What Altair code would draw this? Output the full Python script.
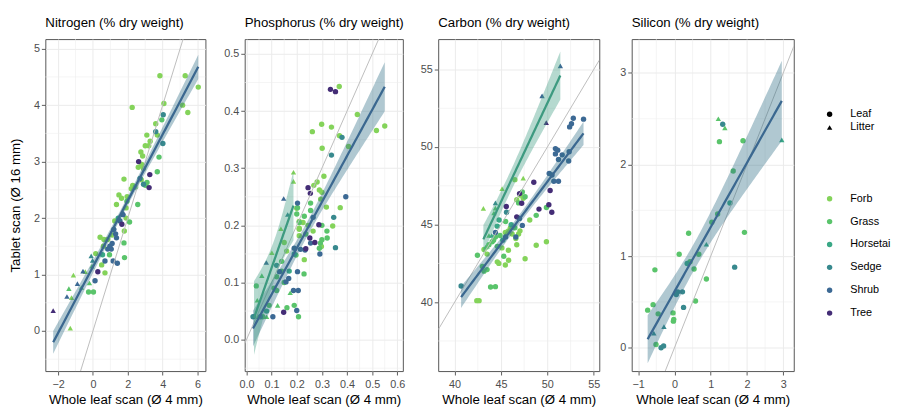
import altair as alt
import numpy as np
import pandas as pd

TYPES = ["Forb", "Grass", "Horsetai", "Sedge", "Shrub", "Tree"]
TYPE_COLORS = ["#84d35a", "#5ac46b", "#3aa886", "#38898e", "#3c6994", "#442d76"]
SAMPLES = ["Leaf", "Litter"]
SAMPLE_SHAPES = ["circle", "triangle-up"]
FIT_COLORS = {"Leaf": "#3b6890", "Litter": "#3d9a80"}
BAND_COLORS = {"Leaf": "#2f6f85", "Litter": "#3d9a80"}

PANEL_TITLES = ["Nitrogen (% dry weight)", "Phosphorus (% dry weight)",
                "Carbon (% dry weight)", "Silicon (% dry weight)"]
X_TITLE = "Whole leaf scan (Ø 4 mm)"
Y_TITLE = "Tablet scan (Ø 16 mm)"

# ---------------- Nitrogen ----------------
N_LEAF_FORB_X = [3.84, 5.29, 6.04, 2.25, 5.14, 5.44, 4.07, 3.60, 3.69, 3.09, 3.28, 3.20, 3.00, 2.75, 2.85, 2.60, 2.80, 2.90, 2.77, 2.28, 2.20, 1.49, 1.64, 1.35, 1.96, 1.90, 1.90, 1.80, 1.78, 0.41, 0.63, 0.85, 0.60, 0.16, 0.50, 0.69, 1.25, 1.10]
N_LEAF_FORB_Y = [4.52, 4.52, 4.32, 3.96, 4.00, 3.87, 4.03, 3.67, 3.47, 3.47, 3.36, 3.28, 3.28, 3.17, 3.10, 2.90, 2.95, 2.88, 2.68, 2.58, 2.52, 2.41, 2.35, 2.24, 2.38, 2.18, 2.00, 1.77, 2.69, 1.66, 1.62, 1.62, 1.50, 1.37, 1.17, 1.03, 1.95, 1.70]
N_LEAF_GRASS_X = [3.95, 3.79, 3.69, 3.10, 2.57, 2.10, 1.78, 1.81, 0.03, -0.25, 1.95, 3.00, 0.95, 2.45]
N_LEAF_GRASS_Y = [3.74, 3.08, 2.82, 2.63, 2.24, 1.93, 1.56, 1.30, 0.69, 0.69, 2.30, 2.58, 1.35, 2.55]
N_LEAF_HORSE_X = [1.45, 0.55]
N_LEAF_HORSE_Y = [2.00, 1.35]
N_LEAF_SEDGE_X = [4.03, 4.01, 2.90, 3.60, 2.70]
N_LEAF_SEDGE_Y = [3.83, 3.32, 2.60, 3.53, 2.70]
N_LEAF_SHRUB_X = [1.72, 1.20, 1.30, 1.35, 0.97, 1.05, 1.10, 0.69, 1.16, 1.40, 0.12, 1.55, 0.85]
N_LEAF_SHRUB_Y = [2.06, 1.80, 1.72, 1.65, 1.50, 1.45, 1.55, 1.24, 1.24, 1.20, 0.89, 1.95, 1.45]
N_LEAF_TREE_X = [2.62, 3.26, 3.22, 1.66, 0.28]
N_LEAF_TREE_Y = [3.00, 2.77, 2.54, 1.89, 1.05]
N_LITTER_TREE_X = [-2.28]
N_LITTER_TREE_Y = [0.36]
N_LITTER_FORB_X = [-1.30, -1.12, -1.23, -0.44]
N_LITTER_FORB_Y = [0.05, 0.99, 0.59, 1.05]
N_LITTER_GRASS_X = [-1.38, -0.66, -0.20, -0.05]
N_LITTER_GRASS_Y = [0.75, 0.77, 0.85, 1.15]
N_LITTER_SHRUB_X = [-1.49, -0.89, -0.57, 1.74, 1.15]
N_LITTER_SHRUB_Y = [0.61, 0.84, 1.06, 2.09, 1.80]
N_LITTER_SEDGE_X = [-0.10, -0.02]
N_LITTER_SEDGE_Y = [1.33, 1.25]

# ---------------- Phosphorus ----------------
P_LEAF_TREE_X = [0.334, 0.354, 0.245, 0.254, 0.288, 0.252, 0.272, 0.236, 0.148]
P_LEAF_TREE_Y = [0.438, 0.434, 0.266, 0.256, 0.201, 0.178, 0.170, 0.159, 0.048]
P_LEAF_FORB_X = [0.369, 0.441, 0.550, 0.517, 0.262, 0.299, 0.338, 0.406, 0.301, 0.308, 0.281, 0.268, 0.290, 0.300, 0.295, 0.318, 0.373, 0.343, 0.210, 0.298, 0.230, 0.200, 0.210, 0.210, 0.210, 0.160, 0.150, 0.225, 0.245, 0.265, 0.370]
P_LEAF_FORB_Y = [0.443, 0.394, 0.374, 0.366, 0.364, 0.377, 0.372, 0.338, 0.335, 0.286, 0.276, 0.270, 0.262, 0.258, 0.246, 0.232, 0.231, 0.199, 0.195, 0.163, 0.140, 0.230, 0.207, 0.193, 0.182, 0.155, 0.170, 0.205, 0.200, 0.190, 0.357]
P_LEAF_GRASS_X = [0.255, 0.203, 0.255, 0.230, 0.210, 0.300, 0.236, 0.321, 0.294, 0.039, 0.161, 0.190, 0.207, 0.229, 0.140, 0.120, 0.150, 0.120, 0.110, 0.197, 0.140, 0.200, 0.300, 0.290, 0.320, 0.065, 0.090]
P_LEAF_GRASS_Y = [0.239, 0.231, 0.226, 0.216, 0.205, 0.200, 0.185, 0.178, 0.169, 0.094, 0.056, 0.060, 0.040, 0.115, 0.120, 0.110, 0.100, 0.086, 0.090, 0.148, 0.137, 0.220, 0.175, 0.160, 0.190, 0.040, 0.060]
P_LEAF_SEDGE_X = [0.380, 0.338, 0.347, 0.354, 0.026, 0.120]
P_LEAF_SEDGE_Y = [0.354, 0.323, 0.214, 0.161, 0.040, 0.130]
P_LEAF_HORSE_X = [0.190, 0.080, 0.170]
P_LEAF_HORSE_Y = [0.150, 0.050, 0.120]
P_LEAF_SHRUB_X = [0.395, 0.203, 0.265, 0.255, 0.233, 0.292, 0.105, 0.200, 0.187, 0.206, 0.203, 0.131, 0.157, 0.168, 0.190, 0.215, 0.055]
P_LEAF_SHRUB_Y = [0.250, 0.239, 0.214, 0.169, 0.157, 0.150, 0.040, 0.051, 0.086, 0.086, 0.119, 0.119, 0.101, 0.107, 0.160, 0.158, 0.040]
P_LITTER_FORB_X = [0.187, 0.187, 0.137, 0.101]
P_LITTER_FORB_Y = [0.293, 0.277, 0.194, 0.152]
P_LITTER_GRASS_X = [0.061, 0.043, 0.124, 0.174, 0.045, 0.080]
P_LITTER_GRASS_Y = [0.112, 0.069, 0.060, 0.082, 0.040, 0.040]
P_LITTER_SHRUB_X = [0.148, 0.079]
P_LITTER_SHRUB_Y = [0.247, 0.135]
P_LITTER_SEDGE_X = [0.164, 0.030]
P_LITTER_SEDGE_Y = [0.219, 0.040]

# ---------------- Carbon ----------------
C_LEAF_SEDGE_X = [40.7, 45.6]
C_LEAF_SEDGE_Y = [41.04, 45.8]
C_LEAF_FORB_X = [42.39, 42.64, 44.60, 44.77, 45.47, 45.82, 47.60, 43.50, 43.17, 45.10, 45.80, 48.80, 49.90, 46.70, 46.60, 45.47, 45.80, 46.20, 46.90, 47.05, 48.10, 46.50, 46.70, 47.10, 47.40, 46.00]
C_LEAF_FORB_Y = [40.10, 40.10, 42.60, 42.50, 42.40, 42.70, 42.80, 43.10, 43.40, 43.50, 43.35, 43.67, 43.90, 43.70, 44.10, 44.50, 44.60, 44.40, 44.40, 44.60, 45.30, 47.90, 46.60, 46.90, 46.70, 44.80]
C_LEAF_GRASS_X = [43.88, 44.40, 42.46, 42.99, 43.50, 43.17, 45.30, 43.70, 44.05, 44.60, 44.40, 44.90, 46.50, 48.80, 49.90, 47.30, 46.90, 47.60, 44.20, 45.50]
C_LEAF_GRASS_Y = [40.98, 41.00, 43.03, 42.30, 42.10, 42.00, 42.96, 43.70, 43.90, 43.60, 44.20, 44.30, 44.80, 45.60, 46.10, 47.10, 46.40, 46.80, 44.00, 45.20]
C_LEAF_HORSE_X = [44.6, 44.8, 45.2, 46.1]
C_LEAF_HORSE_Y = [44.9, 45.3, 44.0, 45.0]
C_LEAF_SHRUB_X = [46.6, 45.5, 47.3, 47.0, 50.87, 51.12, 50.87, 51.6, 51.2, 52.3, 50.2, 50.5, 50.7, 51.2, 52.8, 53.9, 52.4, 52.6, 52.35, 44.4]
C_LEAF_SHRUB_Y = [44.2, 44.2, 44.95, 45.4, 49.9, 49.8, 49.56, 49.5, 49.2, 49.1, 48.3, 48.2, 47.8, 47.8, 51.86, 51.8, 51.3, 51.5, 49.7, 44.5]
C_LEAF_TREE_X = [45.57, 47.23, 48.54, 50.3, 49.1, 50.16, 50.48, 47.0, 46.7]
C_LEAF_TREE_Y = [46.17, 46.38, 47.73, 47.2, 46.0, 46.28, 45.8, 47.0, 45.5]
C_LITTER_SHRUB_X = [51.4, 49.43]
C_LITTER_SHRUB_Y = [55.23, 53.3]
C_LITTER_SEDGE_X = [44.4]
C_LITTER_SEDGE_Y = [46.4]
C_LITTER_TREE_X = [49.88]
C_LITTER_TREE_Y = [51.57]
C_LITTER_FORB_X = [47.4, 45.12, 43.1]
C_LITTER_FORB_Y = [48.0, 47.32, 46.05]
C_LITTER_GRASS_X = [44.24, 44.4, 43.7, 43.35, 43.5]
C_LITTER_GRASS_Y = [45.75, 46.06, 44.3, 43.55, 43.6]
C_LITTER_HORSE_X = [44.0]
C_LITTER_HORSE_Y = [44.3]

# ---------------- Silicon ----------------
S_LEAF_SEDGE_X = [1.33, 1.66, 0.09, 0.22, 0.25, -0.37, -0.30, 0.05]
S_LEAF_SEDGE_Y = [2.44, 0.88, 0.61, 0.61, 0.44, 0.00, 0.02, 0.58]
S_LEAF_GRASS_X = [1.24, 1.89, 1.62, 1.19, 1.03, 1.93, 0.39, 0.13, 0.67, 0.54, -0.54, 0.88, 0.58, -0.74, -0.59, -0.45, -0.04, -0.02, -0.03, -0.51, 0.43]
S_LEAF_GRASS_Y = [2.25, 2.26, 1.93, 1.46, 1.37, 1.26, 1.25, 1.02, 1.02, 0.86, 0.85, 0.75, 0.51, 0.41, 0.47, 0.37, 0.38, 0.31, 0.29, 0.035, 0.94]
S_LEAF_HORSE_X = [1.53, 0.35]
S_LEAF_HORSE_Y = [1.58, 0.92]
S_LITTER_GRASS_X = [1.21, 1.39]
S_LITTER_GRASS_Y = [2.50, 2.40]
S_LITTER_HORSE_X = [2.96, 0.88]
S_LITTER_HORSE_Y = [2.27, 1.13]
S_LITTER_SEDGE_X = [-0.29, -0.57]
S_LITTER_SEDGE_Y = [0.23, 0.16]

# axis domains, ticks, minor grid values
N_XDOM, N_YDOM = [-2.73, 6.45], [-0.71, 5.17]
N_XT, N_YT = [-2, 0, 2, 4, 6], [0, 1, 2, 3, 4, 5]
N_XM, N_YM = [-1, 1, 3, 5], [-0.5, 0.5, 1.5, 2.5, 3.5, 4.5]
P_XDOM, P_YDOM = [-0.007, 0.622], [-0.055, 0.526]
P_XT, P_YT = [0, 0.1, 0.2, 0.3, 0.4, 0.5, 0.6], [0, 0.1, 0.2, 0.3, 0.4, 0.5]
P_XM, P_YM = [0.05, 0.15, 0.25, 0.35, 0.45, 0.55], [-0.05, 0.05, 0.15, 0.25, 0.35, 0.45]
C_XDOM, C_YDOM = [38.23, 55.6], [35.56, 56.96]
C_XT, C_YT = [40, 45, 50, 55], [40, 45, 50, 55]
C_XM, C_YM = [42.5, 47.5, 52.5], [37.5, 42.5, 47.5, 52.5]
S_XDOM, S_YDOM = [-1.18, 3.29], [-0.255, 3.37]
S_XT, S_YT = [-1, 0, 1, 2, 3], [0, 1, 2, 3]
S_XM, S_YM = [-0.5, 0.5, 1.5, 2.5], [0.5, 1.5, 2.5]


def groups_df(groups):
    rows = []
    for sample, ptype, xs, ys in groups:
        for x, y in zip(xs, ys):
            rows.append({"x": x, "y": y, "type": ptype, "sample": sample})
    return pd.DataFrame(rows)


def t975(df):
    z = 1.959964
    g1 = (z ** 3 + z) / 4
    g2 = (5 * z ** 5 + 16 * z ** 3 + 3 * z) / 96
    g3 = (3 * z ** 7 + 19 * z ** 5 + 17 * z ** 3 - 15 * z) / 384
    return z + g1 / df + g2 / df ** 2 + g3 / df ** 3


def lm_fit(df, n=80):
    xs = df["x"].to_numpy(float)
    ys = df["y"].to_numpy(float)
    m = len(xs)
    b, a = np.polyfit(xs, ys, 1)
    res = ys - (a + b * xs)
    s = np.sqrt((res ** 2).sum() / (m - 2))
    xbar = xs.mean()
    sxx = ((xs - xbar) ** 2).sum()
    gx = np.linspace(xs.min(), xs.max(), n)
    fy = a + b * gx
    se = s * np.sqrt(1.0 / m + (gx - xbar) ** 2 / sxx)
    t = t975(m - 2)
    return pd.DataFrame({"x": gx, "y": fy, "lo": fy - t * se, "hi": fy + t * se})


FONT = "Liberation Sans"
PLOT_H = 338

color_legend = alt.Legend(title=None, orient="none", legendX=793, legendY=157,
                          symbolType="circle", symbolSize=30, labelFontSize=11,
                          rowPadding=11.3, labelOffset=15.5, padding=0,
                          labelColor="black", symbolStrokeWidth=0)
shape_legend = alt.Legend(title=None, orient="none", legendX=793, legendY=71,
                          symbolSize=30, labelFontSize=11, rowPadding=1.5,
                          labelOffset=15.5, padding=0, labelColor="black",
                          symbolFillColor="black", symbolStrokeColor="black",
                          symbolStrokeWidth=0)


def panel(title, groups, fit_mode, xdom, ydom, xt, yt, xm, ym, fmt, ytitle, yext, width):
    pts = groups_df(groups)
    xs = alt.Scale(domain=xdom, nice=False, zero=False)
    ys = alt.Scale(domain=ydom, nice=False, zero=False)
    xaxis = alt.Axis(values=xt, format=fmt, title=X_TITLE)
    if ytitle:
        yaxis = alt.Axis(values=yt, format=fmt, title=ytitle,
                         minExtent=yext, maxExtent=yext)
    else:
        yaxis = alt.Axis(values=yt, format=fmt, title=None,
                         minExtent=yext, maxExtent=yext)

    minor_x = alt.Chart(pd.DataFrame({"v": xm})).mark_rule(
        color="#EEEEEE", strokeWidth=0.6).encode(
        x=alt.X("v:Q", scale=xs, axis=xaxis))
    minor_y = alt.Chart(pd.DataFrame({"v": ym})).mark_rule(
        color="#EEEEEE", strokeWidth=0.6).encode(
        y=alt.Y("v:Q", scale=ys, axis=yaxis))

    points = alt.Chart(pts).mark_point(filled=True, size=30, opacity=1, clip=True).encode(
        x=alt.X("x:Q", scale=xs, axis=xaxis),
        y=alt.Y("y:Q", scale=ys, axis=yaxis),
        color=alt.Color("type:N", scale=alt.Scale(domain=TYPES, range=TYPE_COLORS),
                        legend=color_legend),
        shape=alt.Shape("sample:N", scale=alt.Scale(domain=SAMPLES, range=SAMPLE_SHAPES),
                        legend=shape_legend),
    )

    ident = alt.Chart(pd.DataFrame({"x": xdom, "y": xdom})).mark_line(
        color="#BDBDBD", strokeWidth=1, clip=True).encode(
        x=alt.X("x:Q", scale=xs, axis=xaxis), y=alt.Y("y:Q", scale=ys, axis=yaxis))

    layers = [minor_x, minor_y, points, ident]
    if fit_mode == "all":
        fits = [("Leaf", lm_fit(pts))]
    else:
        fits = [(s, lm_fit(pts[pts["sample"] == s])) for s in SAMPLES]
    for s, fd in fits:
        band = alt.Chart(fd).mark_area(color=BAND_COLORS[s], opacity=0.38, clip=True).encode(
            x=alt.X("x:Q", scale=xs, axis=xaxis),
            y=alt.Y("lo:Q", scale=ys, axis=yaxis),
            y2="hi:Q")
        layers.append(band)
    for s, fd in fits:
        line = alt.Chart(fd).mark_line(color=FIT_COLORS[s], strokeWidth=2.3, clip=True).encode(
            x=alt.X("x:Q", scale=xs, axis=xaxis),
            y=alt.Y("y:Q", scale=ys, axis=yaxis))
        layers.append(line)

    return alt.layer(*layers).properties(
        width=width, height=PLOT_H,
        title=alt.TitleParams(title, anchor="start", frame="group", fontSize=13.5,
                              fontWeight="normal", color="black", offset=10, font=FONT),
    )


n_groups = [
    ("Leaf", "Forb", N_LEAF_FORB_X, N_LEAF_FORB_Y),
    ("Leaf", "Grass", N_LEAF_GRASS_X, N_LEAF_GRASS_Y),
    ("Leaf", "Horsetai", N_LEAF_HORSE_X, N_LEAF_HORSE_Y),
    ("Leaf", "Sedge", N_LEAF_SEDGE_X, N_LEAF_SEDGE_Y),
    ("Leaf", "Shrub", N_LEAF_SHRUB_X, N_LEAF_SHRUB_Y),
    ("Leaf", "Tree", N_LEAF_TREE_X, N_LEAF_TREE_Y),
    ("Litter", "Tree", N_LITTER_TREE_X, N_LITTER_TREE_Y),
    ("Litter", "Forb", N_LITTER_FORB_X, N_LITTER_FORB_Y),
    ("Litter", "Grass", N_LITTER_GRASS_X, N_LITTER_GRASS_Y),
    ("Litter", "Shrub", N_LITTER_SHRUB_X, N_LITTER_SHRUB_Y),
    ("Litter", "Sedge", N_LITTER_SEDGE_X, N_LITTER_SEDGE_Y),
]
p_groups = [
    ("Leaf", "Forb", P_LEAF_FORB_X, P_LEAF_FORB_Y),
    ("Leaf", "Grass", P_LEAF_GRASS_X, P_LEAF_GRASS_Y),
    ("Leaf", "Horsetai", P_LEAF_HORSE_X, P_LEAF_HORSE_Y),
    ("Leaf", "Sedge", P_LEAF_SEDGE_X, P_LEAF_SEDGE_Y),
    ("Leaf", "Shrub", P_LEAF_SHRUB_X, P_LEAF_SHRUB_Y),
    ("Leaf", "Tree", P_LEAF_TREE_X, P_LEAF_TREE_Y),
    ("Litter", "Forb", P_LITTER_FORB_X, P_LITTER_FORB_Y),
    ("Litter", "Grass", P_LITTER_GRASS_X, P_LITTER_GRASS_Y),
    ("Litter", "Shrub", P_LITTER_SHRUB_X, P_LITTER_SHRUB_Y),
    ("Litter", "Sedge", P_LITTER_SEDGE_X, P_LITTER_SEDGE_Y),
]
c_groups = [
    ("Leaf", "Forb", C_LEAF_FORB_X, C_LEAF_FORB_Y),
    ("Leaf", "Grass", C_LEAF_GRASS_X, C_LEAF_GRASS_Y),
    ("Leaf", "Horsetai", C_LEAF_HORSE_X, C_LEAF_HORSE_Y),
    ("Leaf", "Sedge", C_LEAF_SEDGE_X, C_LEAF_SEDGE_Y),
    ("Leaf", "Shrub", C_LEAF_SHRUB_X, C_LEAF_SHRUB_Y),
    ("Leaf", "Tree", C_LEAF_TREE_X, C_LEAF_TREE_Y),
    ("Litter", "Forb", C_LITTER_FORB_X, C_LITTER_FORB_Y),
    ("Litter", "Grass", C_LITTER_GRASS_X, C_LITTER_GRASS_Y),
    ("Litter", "Horsetai", C_LITTER_HORSE_X, C_LITTER_HORSE_Y),
    ("Litter", "Sedge", C_LITTER_SEDGE_X, C_LITTER_SEDGE_Y),
    ("Litter", "Shrub", C_LITTER_SHRUB_X, C_LITTER_SHRUB_Y),
    ("Litter", "Tree", C_LITTER_TREE_X, C_LITTER_TREE_Y),
]
s_groups = [
    ("Leaf", "Grass", S_LEAF_GRASS_X, S_LEAF_GRASS_Y),
    ("Leaf", "Horsetai", S_LEAF_HORSE_X, S_LEAF_HORSE_Y),
    ("Leaf", "Sedge", S_LEAF_SEDGE_X, S_LEAF_SEDGE_Y),
    ("Litter", "Grass", S_LITTER_GRASS_X, S_LITTER_GRASS_Y),
    ("Litter", "Horsetai", S_LITTER_HORSE_X, S_LITTER_HORSE_Y),
    ("Litter", "Sedge", S_LITTER_SEDGE_X, S_LITTER_SEDGE_Y),
]

p1 = panel(PANEL_TITLES[0], n_groups, "all", N_XDOM, N_YDOM, N_XT, N_YT, N_XM, N_YM, "d", Y_TITLE, 13, 163)
p2 = panel(PANEL_TITLES[1], p_groups, "split", P_XDOM, P_YDOM, P_XT, P_YT, P_XM, P_YM, ".1f", None, 26, 161)
p3 = panel(PANEL_TITLES[2], c_groups, "split", C_XDOM, C_YDOM, C_XT, C_YT, C_XM, C_YM, "d", None, 20, 164)
p4 = panel(PANEL_TITLES[3], s_groups, "all", S_XDOM, S_YDOM, S_XT, S_YT, S_XM, S_YM, "d", None, 19, 165)

chart = alt.hconcat(p1, p2, p3, p4, spacing=12).resolve_scale(
    x="independent", y="independent", color="shared", shape="shared"
).properties(
    padding={"left": 0, "top": 3, "right": 0, "bottom": 0}
).configure(font=FONT).configure_view(
    stroke="#555555", strokeWidth=1, fill="white"
).configure_axis(
    grid=True, gridColor="#EBEBEB", gridWidth=1, domain=False,
    tickColor="#333333", tickSize=4, tickWidth=0.8,
    labelColor="#4D4D4D", labelFontSize=11, labelPadding=2, labelFont=FONT,
    titleColor="black", titleFontSize=13.5, titleFontWeight="normal", titleFont=FONT,
    titlePadding=4,
).configure_axisX(labelPadding=3.5).configure_axisY(titlePadding=10).configure_legend(labelFont=FONT)

chart.save("out.html", embed_options={"renderer": "svg", "actions": False})
